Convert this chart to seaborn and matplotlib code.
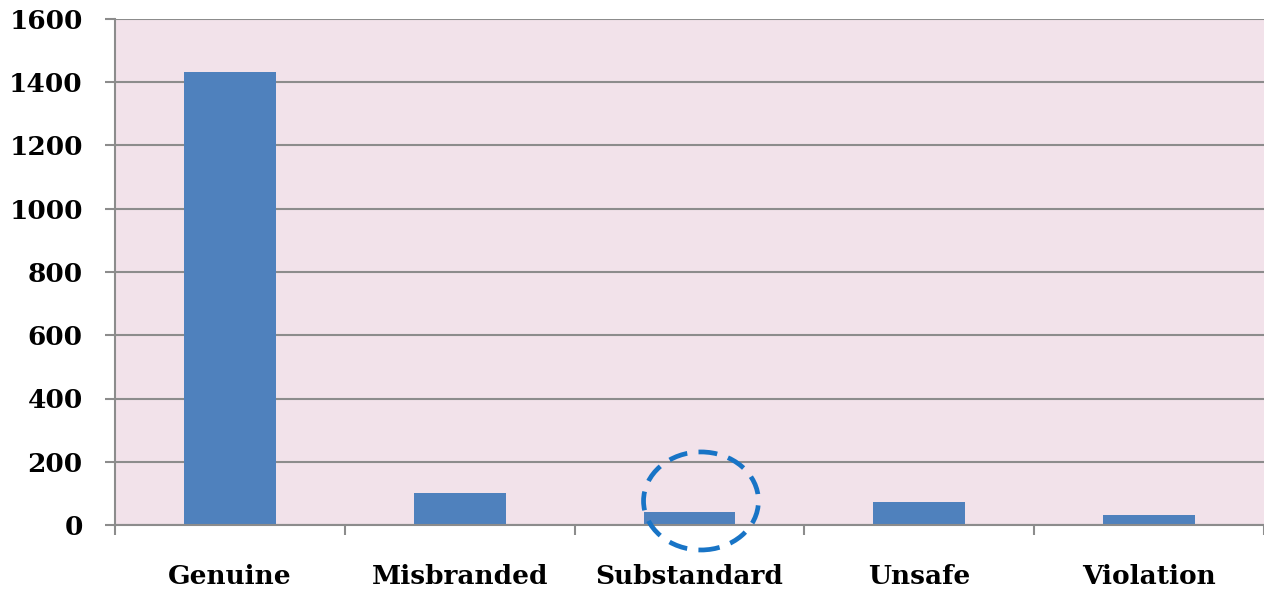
import numpy as np
import matplotlib
matplotlib.use("Agg")
import matplotlib.pyplot as plt
from matplotlib.patches import Ellipse
import seaborn as sns

# -----------------------
# Data
# -----------------------
categories = ["Genuine", "Misbranded", "Substandard", "Unsafe", "Violation"]
counts = [1432, 100, 40, 72, 33]
y_ticks = [0, 200, 400, 600, 800, 1000, 1200, 1400, 1600]

BAR_COLOR = "#4F81BD"
BG_COLOR = "#F2E2EA"
AXIS_GRAY = "#8C8C8C"

sns.set_style("white")
plt.rcParams["font.family"] = ["DejaVu Serif"]

fig = plt.figure(figsize=(12.64, 5.91), dpi=100)
ax = fig.add_axes([115 / 1264, 66 / 591, 1 - 115 / 1264, 506 / 591])
ax.set_facecolor(BG_COLOR)

sns.barplot(x=categories, y=counts, color=BAR_COLOR, width=0.4, saturation=1,
            edgecolor="none", linewidth=0, ax=ax)

ax.set_xlim(-0.5, len(categories) - 0.5)
ax.set_ylim(0, 1600)
ax.set_yticks(y_ticks)
ax.set_yticklabels([str(v) for v in y_ticks], fontsize=19, fontweight="bold", color="black")
ax.yaxis.grid(True, color=AXIS_GRAY, linewidth=1.5)
ax.set_axisbelow(True)

# category labels without ticks, boundary ticks as minor ticks
ax.set_xticks(range(len(categories)))
ax.set_xticklabels(categories, fontsize=19, fontweight="bold", color="black")
ax.set_xticks(np.arange(-0.5, len(categories), 1.0), minor=True)
ax.tick_params(axis="x", which="major", bottom=True, length=0, pad=28)
ax.tick_params(axis="x", which="minor", bottom=True, length=7.2, width=1.5,
               color=AXIS_GRAY, direction="out")
ax.tick_params(axis="y", which="major", left=True, length=7.2, width=1.5,
               color=AXIS_GRAY, direction="out", pad=16)
ax.set_xlabel("")
ax.set_ylabel("")

for side in ["top", "right"]:
    ax.spines[side].set_visible(False)
for side in ["left", "bottom"]:
    ax.spines[side].set_color(AXIS_GRAY)
    ax.spines[side].set_linewidth(1.5)

# dashed circle highlighting the Substandard bar
ell = Ellipse((2.05, 76), width=0.5, height=310, fill=False,
              edgecolor="#1874C6", linewidth=3.4, linestyle=(0, (4.0, 2.4)),
              clip_on=False, zorder=5)
ax.add_patch(ell)

plt.savefig("out.png", dpi=100)
plt.close(fig)
